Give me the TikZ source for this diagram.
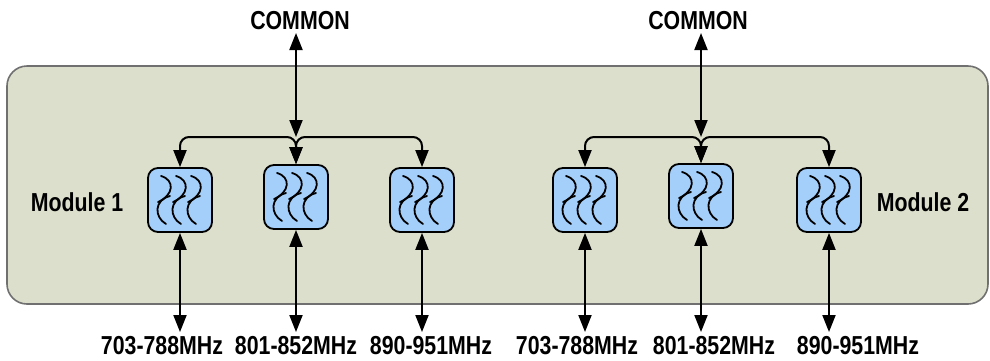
\documentclass[tikz,border=0pt]{standalone}
\usepackage{fontspec}
\newfontfamily\lblfont[FakeStretch=0.82]{Liberation Sans}
\usetikzlibrary{arrows.meta}
\definecolor{panelfill}{HTML}{DCDFCB}
\definecolor{panelline}{HTML}{707070}
\definecolor{filtfill}{HTML}{A3CFFA}
\tikzset{
  lbl/.style={font=\lblfont\bfseries\fontsize{26}{29}\selectfont, inner sep=0pt},
  filt/.style={draw=black, line width=1.8pt, fill=filtfill, rounded corners=10pt, minimum width=64pt, minimum height=64pt, inner sep=0pt},
  tipped/.style={line width=2pt, {Triangle[length=17pt,width=13pt]}-{Triangle[length=17pt,width=13pt]}},
  branch/.style={line width=2pt, rounded corners=9pt, {Triangle[length=17pt,width=13pt]}-{Triangle[length=17pt,width=13pt]}},
  wave/.pic={
    \draw[line width=1.8pt, line cap=round] (-3,-24) .. controls (11,-20) and (10,-5) .. (-6,2);
    \draw[line width=1.8pt, line cap=round] (6,-4) .. controls (-10,0) and (-10,17) .. (2,24);
  },
  waves/.pic={
    \pic at (-16,0) {wave};
    \pic at (-1,0) {wave};
    \pic at (14,0) {wave};
  }
}
\begin{document}
\begin{tikzpicture}[x=1pt,y=-1pt]
\useasboundingbox (0,0) rectangle (990,360);
\fill[white] (0,0) rectangle (990,360);
% panel
\draw[panelline, line width=1.6pt, fill=panelfill, rounded corners=20pt] (7,66) rectangle (988,304);

% text
\node[lbl, anchor=base] (c1) at (300,29) {COMMON};
\node[lbl, anchor=base] (c2) at (698,29) {COMMON};
\node[lbl, anchor=base] (m1) at (77,211) {Module 1};
\node[lbl, anchor=base] (m2) at (923,211) {Module 2};
\node[lbl, anchor=base] (f1) at (162,354) {703-788MHz};
\node[lbl, anchor=base] (f2) at (296,354) {801-852MHz};
\node[lbl, anchor=base] (f3) at (431,354) {890-951MHz};
\node[lbl, anchor=base] (f4) at (577,354) {703-788MHz};
\node[lbl, anchor=base] (f5) at (714,354) {801-852MHz};
\node[lbl, anchor=base] (f6) at (858,354) {890-951MHz};

% filter boxes
\node[filt] (b1) at (180,200) {};
\node[filt] (b2) at (296,197) {};
\node[filt] (b3) at (422,200) {};
\node[filt] (b4) at (585,200) {};
\node[filt] (b5) at (701,196) {};
\node[filt] (b6) at (829,200) {};
\foreach \b in {b1,b2,b3,b4,b5,b6} { \pic at (\b) {waves}; }

% junctions and end points
\coordinate (j1) at (296,137);
\coordinate (j2) at (701,137);
\coordinate (t1) at (296,33);
\coordinate (t2) at (701,33);
\coordinate (e1) at (180,332);
\coordinate (e2) at (296,332);
\coordinate (e3) at (422,332);
\coordinate (e4) at (585,332);
\coordinate (e5) at (701,332);
\coordinate (e6) at (829,332);

% common arrows
\draw[tipped] (t1) -- (j1);
\draw[tipped] (t2) -- (j2);
% branches
\draw[branch] (b1.north) -- (b1.north |- j1) -- (j1) -- (b2.north);
\draw[branch] (b3.north) -- (b3.north |- j1) -- (j1) -- (b2.north);
\draw[branch] (b4.north) -- (b4.north |- j2) -- (j2) -- (b5.north);
\draw[branch] (b6.north) -- (b6.north |- j2) -- (j2) -- (b5.north);
% band arrows
\foreach \i in {1,...,6} { \draw[tipped] (b\i.south) -- (e\i); }
\end{tikzpicture}
\end{document}
